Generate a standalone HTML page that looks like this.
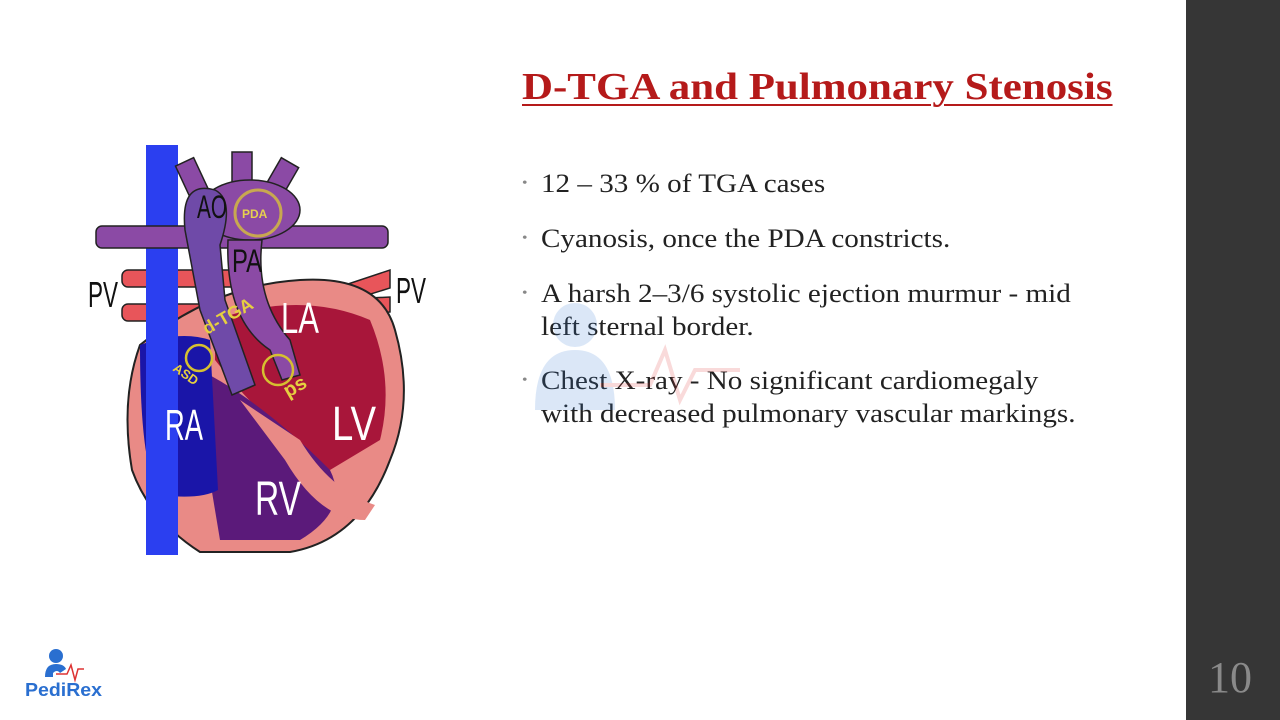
<!DOCTYPE html>
<html><head><meta charset="utf-8"><style>
body{margin:0;width:1280px;height:720px;background:#fff;position:relative;overflow:hidden;font-family:"Liberation Serif",serif}
.bar{position:absolute;left:1186px;top:0;width:94px;height:720px;background:#363636}
.num{position:absolute;left:1208px;top:652px;font-size:44px;color:#8a8a8a}
h1{position:absolute;left:522px;top:65px;margin:0;font-size:38px;font-weight:bold;color:#b51a1a;text-decoration:underline;text-decoration-thickness:2px;text-underline-offset:5px;white-space:nowrap;transform:scaleX(1.13);transform-origin:left}
.b{position:absolute;left:541px;font-size:26px;color:#222;line-height:33px;white-space:nowrap;transform:scaleX(1.12);transform-origin:left}
.b:before{content:"•";position:absolute;left:-17px;font-size:14px;color:#888}
</style></head><body>
<h1>D-TGA and Pulmonary Stenosis</h1>
<div class="b" style="top:167px">12 – 33 % of TGA cases</div>
<div class="b" style="top:222px">Cyanosis, once the PDA constricts.</div>
<div class="b" style="top:277px">A harsh 2–3/6 systolic ejection murmur - mid<br>left sternal border.</div>
<div class="b" style="top:364px">Chest X-ray - No significant cardiomegaly<br>with decreased pulmonary vascular markings.</div>
<div class="bar"></div><div class="num">10</div>

<svg style="position:absolute;left:0;top:0" width="1280" height="720">
<g opacity="0.18"><circle cx="575" cy="325" r="22" fill="#3b7fd8"/><path d="M535 410 Q535 350 575 350 Q615 350 615 410Z" fill="#3b7fd8"/><path d="M600 385 L650 385 L665 350 L680 400 L695 370 L740 370" stroke="#d33" stroke-width="4" fill="none"/></g>
<g fill="#e8555a" stroke="#222" stroke-width="1.5">
<rect x="122" y="270" width="120" height="17" rx="6"/>
<rect x="122" y="304" width="100" height="17" rx="6"/>
<polygon points="330,290 390,270 390,288 335,305"/>
<polygon points="330,300 390,297 390,312 335,318"/>
</g>
<path d="M140 345 Q215 285 300 280 Q380 275 395 330 Q415 400 390 460 Q360 540 290 552 L200 552 Q150 520 132 470 Q120 400 140 345Z" fill="#e98a86" stroke="#222" stroke-width="2"/>
<path d="M215 320 Q300 290 370 320 Q395 380 380 440 L330 470 Q270 430 215 360Z" fill="#a8163a"/>
<path d="M200 370 Q260 400 330 470 Q350 510 300 540 L220 540 L205 450Z" fill="#5b1a7a"/>
<path d="M240 400 L285 460 Q320 520 365 520 L375 505 Q330 490 300 440 Z" fill="#e98a86"/>
<path d="M140 345 Q180 330 210 340 L218 490 Q200 500 160 495 Q140 470 140 345Z" fill="#1a15a8"/>
<rect x="146" y="145" width="32" height="410" fill="#2b3ff0"/>
<g fill="#8b4aa5" stroke="#222" stroke-width="1.5">
<rect x="96" y="226" width="292" height="22" rx="6"/>
<rect x="183" y="160" width="20" height="40" transform="rotate(-25 193 180)"/>
<rect x="232" y="152" width="20" height="40"/>
<rect x="270" y="160" width="20" height="40" transform="rotate(30 280 180)"/>
<ellipse cx="250" cy="210" rx="50" ry="30"/>
<path d="M228 240 Q225 320 270 350 L282 380 L300 375 L290 340 Q255 300 262 240Z"/>
</g>
<path d="M185 230 Q180 180 215 190 Q235 200 220 245 L225 300 L255 385 L232 395 L200 310 Z" fill="#6f4aa8" stroke="#222" stroke-width="1.5"/>
<circle cx="258" cy="213" r="23" fill="none" stroke="#c8a850" stroke-width="3"/>
<circle cx="199" cy="358" r="13" fill="none" stroke="#d6c030" stroke-width="2.5"/>
<circle cx="278" cy="370" r="15" fill="none" stroke="#d6c030" stroke-width="2.5"/>
<g font-family="Liberation Sans,sans-serif">
<text x="88" y="307" font-size="36" fill="#111" textLength="30" lengthAdjust="spacingAndGlyphs">PV</text>
<text x="396" y="303" font-size="36" fill="#111" textLength="30" lengthAdjust="spacingAndGlyphs">PV</text>
<text x="197" y="218" font-size="32" fill="#111" textLength="30" lengthAdjust="spacingAndGlyphs">AO</text>
<text x="232" y="272" font-size="32" fill="#111" textLength="30" lengthAdjust="spacingAndGlyphs">PA</text>
<text x="242" y="218" font-size="12" font-weight="bold" fill="#e6d050">PDA</text>
<text x="281" y="333" font-size="44" fill="#fff" textLength="38" lengthAdjust="spacingAndGlyphs">LA</text>
<text x="165" y="440" font-size="44" fill="#fff" textLength="38" lengthAdjust="spacingAndGlyphs">RA</text>
<text x="332" y="440" font-size="48" fill="#fff" textLength="44" lengthAdjust="spacingAndGlyphs">LV</text>
<text x="255" y="515" font-size="48" fill="#fff" textLength="46" lengthAdjust="spacingAndGlyphs">RV</text>
<text x="207" y="335" font-size="18" font-weight="bold" fill="#e6d040" transform="rotate(-30 207 335)">d-TGA</text>
<text x="172" y="370" font-size="13" font-weight="bold" fill="#e6d040" transform="rotate(35 172 370)">ASD</text>
<text x="288" y="398" font-size="20" font-weight="bold" fill="#e6d040" transform="rotate(-30 288 398)">ps</text>
</g>
<circle cx="56" cy="656" r="7" fill="#2a6fd0"/>
<path d="M45 677 Q45 664 56 664 Q64 664 66 669 L60 673 Q57 669 53 673 L53 677Z" fill="#2a6fd0"/>
<path d="M56 674 L67 674 L71 665 L75 680 L78 669 L84 669" stroke="#d33" stroke-width="1.5" fill="none"/>
<text x="25" y="696" font-family="Liberation Sans,sans-serif" font-weight="bold" font-size="18" fill="#2a6fd0" textLength="77" lengthAdjust="spacingAndGlyphs">PediRex</text>
</svg>
</body></html>
